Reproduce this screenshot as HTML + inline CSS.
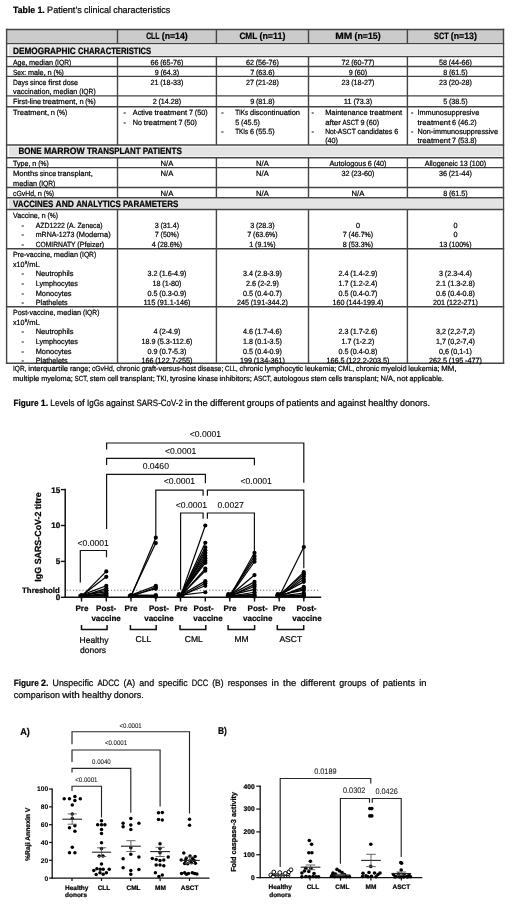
<!DOCTYPE html>
<html><head><meta charset="utf-8"><title>Table 1 and Figures</title>
<style>
html,body{margin:0;padding:0;background:#fff;}
body{width:520px;height:906px;overflow:hidden;position:relative;}
svg{position:absolute;left:0;top:0;will-change:transform;font-family:"Liberation Sans",sans-serif;}
text{stroke:#000;stroke-width:0.22px;text-rendering:geometricPrecision;}
text.lt{stroke-width:0.08px;}
</style></head><body>
<svg width="520" height="906" viewBox="0 0 520 906" fill="#000">
<g id="table1-title">
<text x="13" y="13" font-size="9.26" font-weight="bold" textLength="22.19" lengthAdjust="spacingAndGlyphs">Table</text>
<text x="37.39" y="13" font-size="9.26" font-weight="bold" textLength="7.5" lengthAdjust="spacingAndGlyphs">1.</text>
<text x="47.09" y="13" font-size="9.26" textLength="34.7" lengthAdjust="spacingAndGlyphs">Patient’s</text>
<text x="83.99" y="13" font-size="9.26" textLength="26.99" lengthAdjust="spacingAndGlyphs">clinical</text>
<text x="113.19" y="13" font-size="9.26" textLength="57.11" lengthAdjust="spacingAndGlyphs">characteristics</text>
</g>
<g id="table1">
<rect x="7" y="30" width="496" height="13.5" fill="#cbcbcb"/>
<rect x="9" y="45.2" width="492.8" height="10.6" fill="#e3e3e3"/>
<rect x="9" y="146.6" width="492.8" height="9.8" fill="#e3e3e3"/>
<rect x="9" y="199.1" width="492.8" height="9.8" fill="#e3e3e3"/>
<line x1="5.9" y1="29.5" x2="504.2" y2="29.5" stroke="#444" stroke-width="1.4"/>
<line x1="5.9" y1="43.6" x2="504.2" y2="43.6" stroke="#444" stroke-width="1.4"/>
<line x1="5.9" y1="56.6" x2="504.2" y2="56.6" stroke="#444" stroke-width="1.4"/>
<line x1="5.9" y1="66.5" x2="504.2" y2="66.5" stroke="#444" stroke-width="1.4"/>
<line x1="5.9" y1="76.4" x2="504.2" y2="76.4" stroke="#444" stroke-width="1.4"/>
<line x1="5.9" y1="95.9" x2="504.2" y2="95.9" stroke="#444" stroke-width="1.4"/>
<line x1="5.9" y1="106.7" x2="504.2" y2="106.7" stroke="#444" stroke-width="1.4"/>
<line x1="5.9" y1="145" x2="504.2" y2="145" stroke="#444" stroke-width="1.4"/>
<line x1="5.9" y1="157.7" x2="504.2" y2="157.7" stroke="#444" stroke-width="1.4"/>
<line x1="5.9" y1="167.6" x2="504.2" y2="167.6" stroke="#444" stroke-width="1.4"/>
<line x1="5.9" y1="187.5" x2="504.2" y2="187.5" stroke="#444" stroke-width="1.4"/>
<line x1="5.9" y1="197.7" x2="504.2" y2="197.7" stroke="#444" stroke-width="1.4"/>
<line x1="5.9" y1="209.5" x2="504.2" y2="209.5" stroke="#444" stroke-width="1.4"/>
<line x1="5.9" y1="248.8" x2="504.2" y2="248.8" stroke="#444" stroke-width="1.4"/>
<line x1="5.9" y1="306.7" x2="504.2" y2="306.7" stroke="#444" stroke-width="1.4"/>
<line x1="5.9" y1="363.2" x2="504.2" y2="363.2" stroke="#444" stroke-width="1.4"/>
<line x1="6.6" y1="28.8" x2="6.6" y2="363.9" stroke="#444" stroke-width="1.4"/>
<line x1="503.5" y1="28.8" x2="503.5" y2="363.9" stroke="#444" stroke-width="1.4"/>
<line x1="117.5" y1="29.5" x2="117.5" y2="43.6" stroke="#444" stroke-width="1.4"/>
<line x1="117.5" y1="56.6" x2="117.5" y2="145" stroke="#444" stroke-width="1.4"/>
<line x1="117.5" y1="157.7" x2="117.5" y2="197.7" stroke="#444" stroke-width="1.4"/>
<line x1="117.5" y1="209.5" x2="117.5" y2="363.2" stroke="#444" stroke-width="1.4"/>
<line x1="216.4" y1="29.5" x2="216.4" y2="43.6" stroke="#444" stroke-width="1.4"/>
<line x1="216.4" y1="56.6" x2="216.4" y2="145" stroke="#444" stroke-width="1.4"/>
<line x1="216.4" y1="157.7" x2="216.4" y2="197.7" stroke="#444" stroke-width="1.4"/>
<line x1="216.4" y1="209.5" x2="216.4" y2="363.2" stroke="#444" stroke-width="1.4"/>
<line x1="308.5" y1="29.5" x2="308.5" y2="43.6" stroke="#444" stroke-width="1.4"/>
<line x1="308.5" y1="56.6" x2="308.5" y2="145" stroke="#444" stroke-width="1.4"/>
<line x1="308.5" y1="157.7" x2="308.5" y2="197.7" stroke="#444" stroke-width="1.4"/>
<line x1="308.5" y1="209.5" x2="308.5" y2="363.2" stroke="#444" stroke-width="1.4"/>
<line x1="407.4" y1="29.5" x2="407.4" y2="43.6" stroke="#444" stroke-width="1.4"/>
<line x1="407.4" y1="56.6" x2="407.4" y2="145" stroke="#444" stroke-width="1.4"/>
<line x1="407.4" y1="157.7" x2="407.4" y2="197.7" stroke="#444" stroke-width="1.4"/>
<line x1="407.4" y1="209.5" x2="407.4" y2="363.2" stroke="#444" stroke-width="1.4"/>
<text x="146.13" y="38.6" font-size="9.26" font-weight="bold" textLength="13.41" lengthAdjust="spacingAndGlyphs">CLL</text>
<text x="161.74" y="38.6" font-size="9.26" font-weight="bold" textLength="26.02" lengthAdjust="spacingAndGlyphs">(n=14)</text>
<text x="239.43" y="38.6" font-size="9.26" font-weight="bold" textLength="17.81" lengthAdjust="spacingAndGlyphs">CML</text>
<text x="259.45" y="38.6" font-size="9.26" font-weight="bold" textLength="26.02" lengthAdjust="spacingAndGlyphs">(n=11)</text>
<text x="335.31" y="38.6" font-size="9.26" font-weight="bold" textLength="17.05" lengthAdjust="spacingAndGlyphs">MM</text>
<text x="354.57" y="38.6" font-size="9.26" font-weight="bold" textLength="26.02" lengthAdjust="spacingAndGlyphs">(n=15)</text>
<text x="434.03" y="38.6" font-size="9.26" font-weight="bold" textLength="14.61" lengthAdjust="spacingAndGlyphs">SCT</text>
<text x="450.84" y="38.6" font-size="9.26" font-weight="bold" textLength="26.02" lengthAdjust="spacingAndGlyphs">(n=13)</text>
<text x="13" y="53.5" font-size="9.26" font-weight="bold" textLength="62.74" lengthAdjust="spacingAndGlyphs">DEMOGRAPHIC</text>
<text x="77.95" y="53.5" font-size="9.26" font-weight="bold" textLength="73.29" lengthAdjust="spacingAndGlyphs">CHARACTERISTICS</text>
<text x="18.5" y="153.8" font-size="9.26" font-weight="bold" textLength="23.19" lengthAdjust="spacingAndGlyphs">BONE</text>
<text x="43.9" y="153.8" font-size="9.26" font-weight="bold" textLength="40.83" lengthAdjust="spacingAndGlyphs">MARROW</text>
<text x="86.94" y="153.8" font-size="9.26" font-weight="bold" textLength="53.61" lengthAdjust="spacingAndGlyphs">TRANSPLANT</text>
<text x="142.75" y="153.8" font-size="9.26" font-weight="bold" textLength="39.09" lengthAdjust="spacingAndGlyphs">PATIENTS</text>
<text x="13" y="206.7" font-size="9.26" font-weight="bold" textLength="40.34" lengthAdjust="spacingAndGlyphs">VACCINES</text>
<text x="55.55" y="206.7" font-size="9.26" font-weight="bold" textLength="18.42" lengthAdjust="spacingAndGlyphs">AND</text>
<text x="76.17" y="206.7" font-size="9.26" font-weight="bold" textLength="44.51" lengthAdjust="spacingAndGlyphs">ANALYTICS</text>
<text x="122.89" y="206.7" font-size="9.26" font-weight="bold" textLength="55.47" lengthAdjust="spacingAndGlyphs">PARAMETERS</text>
<text x="13" y="64.8" font-size="7.5" textLength="14.19" lengthAdjust="spacingAndGlyphs">Age,</text>
<text x="28.98" y="64.8" font-size="7.5" textLength="24.14" lengthAdjust="spacingAndGlyphs">median</text>
<text x="54.9" y="64.8" font-size="7.5" textLength="16.39" lengthAdjust="spacingAndGlyphs">(IQR)</text>
<text x="150.44" y="64.8" font-size="7.5" textLength="8.01" lengthAdjust="spacingAndGlyphs">66</text>
<text x="160.23" y="64.8" font-size="7.5" textLength="23.23" lengthAdjust="spacingAndGlyphs">(65-76)</text>
<text x="245.94" y="64.8" font-size="7.5" textLength="8.01" lengthAdjust="spacingAndGlyphs">62</text>
<text x="255.73" y="64.8" font-size="7.5" textLength="23.23" lengthAdjust="spacingAndGlyphs">(56-76)</text>
<text x="341.44" y="64.8" font-size="7.5" textLength="8.01" lengthAdjust="spacingAndGlyphs">72</text>
<text x="351.23" y="64.8" font-size="7.5" textLength="23.23" lengthAdjust="spacingAndGlyphs">(60-77)</text>
<text x="438.94" y="64.8" font-size="7.5" textLength="8.01" lengthAdjust="spacingAndGlyphs">58</text>
<text x="448.73" y="64.8" font-size="7.5" textLength="23.23" lengthAdjust="spacingAndGlyphs">(44-66)</text>
<text x="13" y="74.7" font-size="7.5" textLength="13.1" lengthAdjust="spacingAndGlyphs">Sex:</text>
<text x="27.88" y="74.7" font-size="7.5" textLength="17.81" lengthAdjust="spacingAndGlyphs">male,</text>
<text x="47.48" y="74.7" font-size="7.5" textLength="4.15" lengthAdjust="spacingAndGlyphs">n</text>
<text x="53.41" y="74.7" font-size="7.5" textLength="10.44" lengthAdjust="spacingAndGlyphs">(%)</text>
<text x="154.66" y="74.7" font-size="7.5" textLength="4" lengthAdjust="spacingAndGlyphs">9</text>
<text x="160.45" y="74.7" font-size="7.5" textLength="18.8" lengthAdjust="spacingAndGlyphs">(64.3)</text>
<text x="250.16" y="74.7" font-size="7.5" textLength="4" lengthAdjust="spacingAndGlyphs">7</text>
<text x="255.95" y="74.7" font-size="7.5" textLength="18.8" lengthAdjust="spacingAndGlyphs">(63.6)</text>
<text x="348.66" y="74.7" font-size="7.5" textLength="4" lengthAdjust="spacingAndGlyphs">9</text>
<text x="354.45" y="74.7" font-size="7.5" textLength="12.8" lengthAdjust="spacingAndGlyphs">(60)</text>
<text x="443.16" y="74.7" font-size="7.5" textLength="4" lengthAdjust="spacingAndGlyphs">8</text>
<text x="448.95" y="74.7" font-size="7.5" textLength="18.8" lengthAdjust="spacingAndGlyphs">(61.5)</text>
<text x="13" y="84.6" font-size="7.5" textLength="15.31" lengthAdjust="spacingAndGlyphs">Days</text>
<text x="30.1" y="84.6" font-size="7.5" textLength="16.32" lengthAdjust="spacingAndGlyphs">since</text>
<text x="48.21" y="84.6" font-size="7.5" textLength="12.71" lengthAdjust="spacingAndGlyphs">first</text>
<text x="62.71" y="84.6" font-size="7.5" textLength="15.34" lengthAdjust="spacingAndGlyphs">dose</text>
<text x="13" y="94.1" font-size="7.5" textLength="38.53" lengthAdjust="spacingAndGlyphs">vaccination,</text>
<text x="53.31" y="94.1" font-size="7.5" textLength="24.14" lengthAdjust="spacingAndGlyphs">median</text>
<text x="79.24" y="94.1" font-size="7.5" textLength="16.39" lengthAdjust="spacingAndGlyphs">(IQR)</text>
<text x="150.44" y="84.6" font-size="7.5" textLength="8.01" lengthAdjust="spacingAndGlyphs">21</text>
<text x="160.23" y="84.6" font-size="7.5" textLength="23.23" lengthAdjust="spacingAndGlyphs">(18-33)</text>
<text x="245.94" y="84.6" font-size="7.5" textLength="8.01" lengthAdjust="spacingAndGlyphs">27</text>
<text x="255.73" y="84.6" font-size="7.5" textLength="23.23" lengthAdjust="spacingAndGlyphs">(21-28)</text>
<text x="341.44" y="84.6" font-size="7.5" textLength="8.01" lengthAdjust="spacingAndGlyphs">23</text>
<text x="351.23" y="84.6" font-size="7.5" textLength="23.23" lengthAdjust="spacingAndGlyphs">(18-27)</text>
<text x="438.94" y="84.6" font-size="7.5" textLength="8.01" lengthAdjust="spacingAndGlyphs">23</text>
<text x="448.73" y="84.6" font-size="7.5" textLength="23.23" lengthAdjust="spacingAndGlyphs">(20-28)</text>
<text x="13" y="104.1" font-size="7.5" textLength="28.06" lengthAdjust="spacingAndGlyphs">First-line</text>
<text x="42.84" y="104.1" font-size="7.5" textLength="34.77" lengthAdjust="spacingAndGlyphs">treatment,</text>
<text x="79.4" y="104.1" font-size="7.5" textLength="4.15" lengthAdjust="spacingAndGlyphs">n</text>
<text x="85.34" y="104.1" font-size="7.5" textLength="10.44" lengthAdjust="spacingAndGlyphs">(%)</text>
<text x="152.65" y="104.1" font-size="7.5" textLength="4" lengthAdjust="spacingAndGlyphs">2</text>
<text x="158.44" y="104.1" font-size="7.5" textLength="22.8" lengthAdjust="spacingAndGlyphs">(14.28)</text>
<text x="250.16" y="104.1" font-size="7.5" textLength="4" lengthAdjust="spacingAndGlyphs">9</text>
<text x="255.95" y="104.1" font-size="7.5" textLength="18.8" lengthAdjust="spacingAndGlyphs">(81.8)</text>
<text x="343.65" y="104.1" font-size="7.5" textLength="8.01" lengthAdjust="spacingAndGlyphs">11</text>
<text x="353.45" y="104.1" font-size="7.5" textLength="18.8" lengthAdjust="spacingAndGlyphs">(73.3)</text>
<text x="443.16" y="104.1" font-size="7.5" textLength="4" lengthAdjust="spacingAndGlyphs">5</text>
<text x="448.95" y="104.1" font-size="7.5" textLength="18.8" lengthAdjust="spacingAndGlyphs">(38.5)</text>
<text x="13" y="114.9" font-size="7.5" textLength="35.97" lengthAdjust="spacingAndGlyphs">Treatment,</text>
<text x="50.76" y="114.9" font-size="7.5" textLength="4.15" lengthAdjust="spacingAndGlyphs">n</text>
<text x="56.7" y="114.9" font-size="7.5" textLength="10.44" lengthAdjust="spacingAndGlyphs">(%)</text>
<text x="123.49" y="114.9" font-size="7.5" textLength="2.42" lengthAdjust="spacingAndGlyphs">-</text>
<text x="132.8" y="114.9" font-size="7.5" textLength="19.87" lengthAdjust="spacingAndGlyphs">Active</text>
<text x="154.46" y="114.9" font-size="7.5" textLength="32.8" lengthAdjust="spacingAndGlyphs">treatment</text>
<text x="189.04" y="114.9" font-size="7.5" textLength="4" lengthAdjust="spacingAndGlyphs">7</text>
<text x="194.83" y="114.9" font-size="7.5" textLength="12.8" lengthAdjust="spacingAndGlyphs">(50)</text>
<text x="123.49" y="124.6" font-size="7.5" textLength="2.42" lengthAdjust="spacingAndGlyphs">-</text>
<text x="132.8" y="124.6" font-size="7.5" textLength="9.27" lengthAdjust="spacingAndGlyphs">No</text>
<text x="143.85" y="124.6" font-size="7.5" textLength="32.8" lengthAdjust="spacingAndGlyphs">treatment</text>
<text x="178.44" y="124.6" font-size="7.5" textLength="4" lengthAdjust="spacingAndGlyphs">7</text>
<text x="184.23" y="124.6" font-size="7.5" textLength="12.8" lengthAdjust="spacingAndGlyphs">(50)</text>
<text x="221.29" y="114.9" font-size="7.5" textLength="2.42" lengthAdjust="spacingAndGlyphs">-</text>
<text x="235.2" y="114.9" font-size="7.5" textLength="13.03" lengthAdjust="spacingAndGlyphs">TIKs</text>
<text x="250.02" y="114.9" font-size="7.5" textLength="50.03" lengthAdjust="spacingAndGlyphs">discontinuation</text>
<text x="235.2" y="124.6" font-size="7.5" textLength="4" lengthAdjust="spacingAndGlyphs">5</text>
<text x="240.99" y="124.6" font-size="7.5" textLength="18.8" lengthAdjust="spacingAndGlyphs">(45.5)</text>
<text x="221.29" y="134" font-size="7.5" textLength="2.42" lengthAdjust="spacingAndGlyphs">-</text>
<text x="235.2" y="134" font-size="7.5" textLength="13.03" lengthAdjust="spacingAndGlyphs">TKIs</text>
<text x="250.02" y="134" font-size="7.5" textLength="4" lengthAdjust="spacingAndGlyphs">6</text>
<text x="255.81" y="134" font-size="7.5" textLength="18.8" lengthAdjust="spacingAndGlyphs">(55.5)</text>
<text x="311.49" y="114.9" font-size="7.5" textLength="2.42" lengthAdjust="spacingAndGlyphs">-</text>
<text x="325.2" y="114.9" font-size="7.5" textLength="42.44" lengthAdjust="spacingAndGlyphs">Maintenance</text>
<text x="369.42" y="114.9" font-size="7.5" textLength="32.8" lengthAdjust="spacingAndGlyphs">treatment</text>
<text x="325.2" y="124.6" font-size="7.5" textLength="15.53" lengthAdjust="spacingAndGlyphs">after</text>
<text x="342.51" y="124.6" font-size="7.5" textLength="16.26" lengthAdjust="spacingAndGlyphs">ASCT</text>
<text x="360.56" y="124.6" font-size="7.5" textLength="4" lengthAdjust="spacingAndGlyphs">9</text>
<text x="366.35" y="124.6" font-size="7.5" textLength="12.8" lengthAdjust="spacingAndGlyphs">(60)</text>
<text x="311.49" y="134.3" font-size="7.5" textLength="2.42" lengthAdjust="spacingAndGlyphs">-</text>
<text x="325.2" y="134.3" font-size="7.5" textLength="30.59" lengthAdjust="spacingAndGlyphs">Not-ASCT</text>
<text x="357.58" y="134.3" font-size="7.5" textLength="34.84" lengthAdjust="spacingAndGlyphs">candidates</text>
<text x="394.21" y="134.3" font-size="7.5" textLength="4" lengthAdjust="spacingAndGlyphs">6</text>
<text x="325.2" y="143.4" font-size="7.5" textLength="12.8" lengthAdjust="spacingAndGlyphs">(40)</text>
<text x="410.89" y="114.9" font-size="7.5" textLength="2.42" lengthAdjust="spacingAndGlyphs">-</text>
<text x="417.5" y="114.9" font-size="7.5" textLength="61.71" lengthAdjust="spacingAndGlyphs">Immunosuppresive</text>
<text x="417.5" y="124.6" font-size="7.5" textLength="32.8" lengthAdjust="spacingAndGlyphs">treatment</text>
<text x="452.09" y="124.6" font-size="7.5" textLength="4" lengthAdjust="spacingAndGlyphs">6</text>
<text x="457.88" y="124.6" font-size="7.5" textLength="18.8" lengthAdjust="spacingAndGlyphs">(46.2)</text>
<text x="410.89" y="134.3" font-size="7.5" textLength="2.42" lengthAdjust="spacingAndGlyphs">-</text>
<text x="417.5" y="134.3" font-size="7.5" textLength="80.45" lengthAdjust="spacingAndGlyphs">Non-immunosuppressive</text>
<text x="417.5" y="143.4" font-size="7.5" textLength="32.8" lengthAdjust="spacingAndGlyphs">treatment</text>
<text x="452.09" y="143.4" font-size="7.5" textLength="4" lengthAdjust="spacingAndGlyphs">7</text>
<text x="457.88" y="143.4" font-size="7.5" textLength="18.8" lengthAdjust="spacingAndGlyphs">(53.8)</text>
<text x="13" y="165.9" font-size="7.5" textLength="17.48" lengthAdjust="spacingAndGlyphs">Type,</text>
<text x="32.26" y="165.9" font-size="7.5" textLength="4.15" lengthAdjust="spacingAndGlyphs">n</text>
<text x="38.2" y="165.9" font-size="7.5" textLength="10.44" lengthAdjust="spacingAndGlyphs">(%)</text>
<text x="160.59" y="165.9" font-size="7.5" textLength="12.72" lengthAdjust="spacingAndGlyphs">N/A</text>
<text x="256.09" y="165.9" font-size="7.5" textLength="12.72" lengthAdjust="spacingAndGlyphs">N/A</text>
<text x="329.44" y="165.9" font-size="7.5" textLength="36.64" lengthAdjust="spacingAndGlyphs">Autologous</text>
<text x="367.87" y="165.9" font-size="7.5" textLength="4" lengthAdjust="spacingAndGlyphs">6</text>
<text x="373.66" y="165.9" font-size="7.5" textLength="12.8" lengthAdjust="spacingAndGlyphs">(40)</text>
<text x="424.63" y="165.9" font-size="7.5" textLength="33.25" lengthAdjust="spacingAndGlyphs">Allogeneic</text>
<text x="459.67" y="165.9" font-size="7.5" textLength="8.01" lengthAdjust="spacingAndGlyphs">13</text>
<text x="469.46" y="165.9" font-size="7.5" textLength="16.8" lengthAdjust="spacingAndGlyphs">(100)</text>
<text x="13" y="176.1" font-size="7.5" textLength="24.96" lengthAdjust="spacingAndGlyphs">Months</text>
<text x="39.74" y="176.1" font-size="7.5" textLength="16.32" lengthAdjust="spacingAndGlyphs">since</text>
<text x="57.85" y="176.1" font-size="7.5" textLength="34.94" lengthAdjust="spacingAndGlyphs">transplant,</text>
<text x="13" y="185.6" font-size="7.5" textLength="24.14" lengthAdjust="spacingAndGlyphs">median</text>
<text x="38.93" y="185.6" font-size="7.5" textLength="16.39" lengthAdjust="spacingAndGlyphs">(IQR)</text>
<text x="160.59" y="176.1" font-size="7.5" textLength="12.72" lengthAdjust="spacingAndGlyphs">N/A</text>
<text x="256.09" y="176.1" font-size="7.5" textLength="12.72" lengthAdjust="spacingAndGlyphs">N/A</text>
<text x="341.44" y="176.1" font-size="7.5" textLength="8.01" lengthAdjust="spacingAndGlyphs">32</text>
<text x="351.23" y="176.1" font-size="7.5" textLength="23.23" lengthAdjust="spacingAndGlyphs">(23-60)</text>
<text x="438.94" y="176.1" font-size="7.5" textLength="8.01" lengthAdjust="spacingAndGlyphs">36</text>
<text x="448.73" y="176.1" font-size="7.5" textLength="23.23" lengthAdjust="spacingAndGlyphs">(21-44)</text>
<text x="13" y="195.8" font-size="7.5" textLength="22.94" lengthAdjust="spacingAndGlyphs">cGvHd,</text>
<text x="37.72" y="195.8" font-size="7.5" textLength="4.15" lengthAdjust="spacingAndGlyphs">n</text>
<text x="43.66" y="195.8" font-size="7.5" textLength="10.44" lengthAdjust="spacingAndGlyphs">(%)</text>
<text x="160.59" y="195.8" font-size="7.5" textLength="12.72" lengthAdjust="spacingAndGlyphs">N/A</text>
<text x="256.09" y="195.8" font-size="7.5" textLength="12.72" lengthAdjust="spacingAndGlyphs">N/A</text>
<text x="351.59" y="195.8" font-size="7.5" textLength="12.72" lengthAdjust="spacingAndGlyphs">N/A</text>
<text x="443.16" y="195.8" font-size="7.5" textLength="4" lengthAdjust="spacingAndGlyphs">8</text>
<text x="448.95" y="195.8" font-size="7.5" textLength="18.8" lengthAdjust="spacingAndGlyphs">(61.5)</text>
<text x="13" y="217.9" font-size="7.5" textLength="26.81" lengthAdjust="spacingAndGlyphs">Vaccine,</text>
<text x="41.6" y="217.9" font-size="7.5" textLength="4.15" lengthAdjust="spacingAndGlyphs">n</text>
<text x="47.54" y="217.9" font-size="7.5" textLength="10.44" lengthAdjust="spacingAndGlyphs">(%)</text>
<text x="21.59" y="227.5" font-size="7.5" textLength="2.42" lengthAdjust="spacingAndGlyphs">-</text>
<text x="35.7" y="227.5" font-size="7.5" textLength="29.15" lengthAdjust="spacingAndGlyphs">AZD1222</text>
<text x="66.63" y="227.5" font-size="7.5" textLength="8.96" lengthAdjust="spacingAndGlyphs">(A.</text>
<text x="77.38" y="227.5" font-size="7.5" textLength="25.23" lengthAdjust="spacingAndGlyphs">Zeneca)</text>
<text x="21.59" y="237.1" font-size="7.5" textLength="2.42" lengthAdjust="spacingAndGlyphs">-</text>
<text x="35.7" y="237.1" font-size="7.5" textLength="38.71" lengthAdjust="spacingAndGlyphs">mRNA-1273</text>
<text x="76.19" y="237.1" font-size="7.5" textLength="34.48" lengthAdjust="spacingAndGlyphs">(Moderna)</text>
<text x="21.59" y="246.7" font-size="7.5" textLength="2.42" lengthAdjust="spacingAndGlyphs">-</text>
<text x="35.7" y="246.7" font-size="7.5" textLength="39.85" lengthAdjust="spacingAndGlyphs">COMIRNATY</text>
<text x="77.33" y="246.7" font-size="7.5" textLength="26.83" lengthAdjust="spacingAndGlyphs">(Pfeizer)</text>
<text x="154.66" y="227.5" font-size="7.5" textLength="4" lengthAdjust="spacingAndGlyphs">3</text>
<text x="160.45" y="227.5" font-size="7.5" textLength="18.8" lengthAdjust="spacingAndGlyphs">(31.4)</text>
<text x="154.83" y="237.1" font-size="7.5" textLength="4" lengthAdjust="spacingAndGlyphs">7</text>
<text x="160.62" y="237.1" font-size="7.5" textLength="18.45" lengthAdjust="spacingAndGlyphs">(50%)</text>
<text x="151.83" y="246.7" font-size="7.5" textLength="4" lengthAdjust="spacingAndGlyphs">4</text>
<text x="157.62" y="246.7" font-size="7.5" textLength="24.44" lengthAdjust="spacingAndGlyphs">(28.6%)</text>
<text x="250.16" y="227.5" font-size="7.5" textLength="4" lengthAdjust="spacingAndGlyphs">3</text>
<text x="255.95" y="227.5" font-size="7.5" textLength="18.8" lengthAdjust="spacingAndGlyphs">(28.3)</text>
<text x="247.33" y="237.1" font-size="7.5" textLength="4" lengthAdjust="spacingAndGlyphs">7</text>
<text x="253.12" y="237.1" font-size="7.5" textLength="24.44" lengthAdjust="spacingAndGlyphs">(63.6%)</text>
<text x="249.33" y="246.7" font-size="7.5" textLength="4" lengthAdjust="spacingAndGlyphs">1</text>
<text x="255.12" y="246.7" font-size="7.5" textLength="20.44" lengthAdjust="spacingAndGlyphs">(9.1%)</text>
<text x="355.95" y="227.5" font-size="7.5" textLength="4" lengthAdjust="spacingAndGlyphs">0</text>
<text x="342.83" y="237.1" font-size="7.5" textLength="4" lengthAdjust="spacingAndGlyphs">7</text>
<text x="348.62" y="237.1" font-size="7.5" textLength="24.44" lengthAdjust="spacingAndGlyphs">(46.7%)</text>
<text x="342.83" y="246.7" font-size="7.5" textLength="4" lengthAdjust="spacingAndGlyphs">8</text>
<text x="348.62" y="246.7" font-size="7.5" textLength="24.44" lengthAdjust="spacingAndGlyphs">(53.3%)</text>
<text x="453.45" y="227.5" font-size="7.5" textLength="4" lengthAdjust="spacingAndGlyphs">0</text>
<text x="453.45" y="237.1" font-size="7.5" textLength="4" lengthAdjust="spacingAndGlyphs">0</text>
<text x="439.33" y="246.7" font-size="7.5" textLength="8.01" lengthAdjust="spacingAndGlyphs">13</text>
<text x="449.12" y="246.7" font-size="7.5" textLength="22.45" lengthAdjust="spacingAndGlyphs">(100%)</text>
<text x="13" y="257.1" font-size="7.5" textLength="39.08" lengthAdjust="spacingAndGlyphs">Pre-vaccine,</text>
<text x="53.87" y="257.1" font-size="7.5" textLength="24.14" lengthAdjust="spacingAndGlyphs">median</text>
<text x="79.8" y="257.1" font-size="7.5" textLength="16.39" lengthAdjust="spacingAndGlyphs">(IQR)</text>
<text x="21.59" y="276.3" font-size="7.5" textLength="2.42" lengthAdjust="spacingAndGlyphs">-</text>
<text x="35.7" y="276.3" font-size="7.5" textLength="37.76" lengthAdjust="spacingAndGlyphs">Neutrophils</text>
<text x="21.59" y="285.9" font-size="7.5" textLength="2.42" lengthAdjust="spacingAndGlyphs">-</text>
<text x="35.7" y="285.9" font-size="7.5" textLength="42.26" lengthAdjust="spacingAndGlyphs">Lymphocytes</text>
<text x="21.59" y="295.5" font-size="7.5" textLength="2.42" lengthAdjust="spacingAndGlyphs">-</text>
<text x="35.7" y="295.5" font-size="7.5" textLength="35.82" lengthAdjust="spacingAndGlyphs">Monocytes</text>
<text x="21.59" y="305.1" font-size="7.5" textLength="2.42" lengthAdjust="spacingAndGlyphs">-</text>
<text x="35.7" y="305.1" font-size="7.5" textLength="31.89" lengthAdjust="spacingAndGlyphs">Plathelets</text>
<text x="147.45" y="276.3" font-size="7.5" textLength="10" lengthAdjust="spacingAndGlyphs">3.2</text>
<text x="159.24" y="276.3" font-size="7.5" textLength="27.21" lengthAdjust="spacingAndGlyphs">(1.6-4.9)</text>
<text x="152.44" y="285.9" font-size="7.5" textLength="8.01" lengthAdjust="spacingAndGlyphs">18</text>
<text x="162.24" y="285.9" font-size="7.5" textLength="19.22" lengthAdjust="spacingAndGlyphs">(1-80)</text>
<text x="147.45" y="295.5" font-size="7.5" textLength="10" lengthAdjust="spacingAndGlyphs">0.5</text>
<text x="159.24" y="295.5" font-size="7.5" textLength="27.21" lengthAdjust="spacingAndGlyphs">(0.3-0.9)</text>
<text x="143.44" y="305.1" font-size="7.5" textLength="12.01" lengthAdjust="spacingAndGlyphs">115</text>
<text x="157.24" y="305.1" font-size="7.5" textLength="33.23" lengthAdjust="spacingAndGlyphs">(91.1-146)</text>
<text x="242.95" y="276.3" font-size="7.5" textLength="10" lengthAdjust="spacingAndGlyphs">3.4</text>
<text x="254.74" y="276.3" font-size="7.5" textLength="27.21" lengthAdjust="spacingAndGlyphs">(2.8-3.9)</text>
<text x="245.95" y="285.9" font-size="7.5" textLength="10" lengthAdjust="spacingAndGlyphs">2.6</text>
<text x="257.74" y="285.9" font-size="7.5" textLength="21.22" lengthAdjust="spacingAndGlyphs">(2-2.9)</text>
<text x="242.95" y="295.5" font-size="7.5" textLength="10" lengthAdjust="spacingAndGlyphs">0.5</text>
<text x="254.74" y="295.5" font-size="7.5" textLength="27.21" lengthAdjust="spacingAndGlyphs">(0.4-0.7)</text>
<text x="236.94" y="305.1" font-size="7.5" textLength="12.01" lengthAdjust="spacingAndGlyphs">245</text>
<text x="250.73" y="305.1" font-size="7.5" textLength="37.23" lengthAdjust="spacingAndGlyphs">(191-344.2)</text>
<text x="338.45" y="276.3" font-size="7.5" textLength="10" lengthAdjust="spacingAndGlyphs">2.4</text>
<text x="350.24" y="276.3" font-size="7.5" textLength="27.21" lengthAdjust="spacingAndGlyphs">(1.4-2.9)</text>
<text x="338.45" y="285.9" font-size="7.5" textLength="10" lengthAdjust="spacingAndGlyphs">1.7</text>
<text x="350.24" y="285.9" font-size="7.5" textLength="27.21" lengthAdjust="spacingAndGlyphs">(1.2-2.4)</text>
<text x="338.45" y="295.5" font-size="7.5" textLength="10" lengthAdjust="spacingAndGlyphs">0.5</text>
<text x="350.24" y="295.5" font-size="7.5" textLength="27.21" lengthAdjust="spacingAndGlyphs">(0.4-0.7)</text>
<text x="332.44" y="305.1" font-size="7.5" textLength="12.01" lengthAdjust="spacingAndGlyphs">160</text>
<text x="346.23" y="305.1" font-size="7.5" textLength="37.23" lengthAdjust="spacingAndGlyphs">(144-199.4)</text>
<text x="438.95" y="276.3" font-size="7.5" textLength="4" lengthAdjust="spacingAndGlyphs">3</text>
<text x="444.74" y="276.3" font-size="7.5" textLength="27.21" lengthAdjust="spacingAndGlyphs">(2.3-4.4)</text>
<text x="435.95" y="285.9" font-size="7.5" textLength="10" lengthAdjust="spacingAndGlyphs">2.1</text>
<text x="447.74" y="285.9" font-size="7.5" textLength="27.21" lengthAdjust="spacingAndGlyphs">(1.3-2.8)</text>
<text x="435.95" y="295.5" font-size="7.5" textLength="10" lengthAdjust="spacingAndGlyphs">0.6</text>
<text x="447.74" y="295.5" font-size="7.5" textLength="27.21" lengthAdjust="spacingAndGlyphs">(0.4-0.8)</text>
<text x="432.93" y="305.1" font-size="7.5" textLength="12.01" lengthAdjust="spacingAndGlyphs">201</text>
<text x="446.73" y="305.1" font-size="7.5" textLength="31.23" lengthAdjust="spacingAndGlyphs">(122-271)</text>
<text x="13" y="314.9" font-size="7.5" textLength="42.3" lengthAdjust="spacingAndGlyphs">Post-vaccine,</text>
<text x="57.09" y="314.9" font-size="7.5" textLength="24.14" lengthAdjust="spacingAndGlyphs">median</text>
<text x="83.01" y="314.9" font-size="7.5" textLength="16.39" lengthAdjust="spacingAndGlyphs">(IQR)</text>
<text x="21.59" y="334.26" font-size="7.5" textLength="2.42" lengthAdjust="spacingAndGlyphs">-</text>
<text x="35.7" y="334.26" font-size="7.5" textLength="37.76" lengthAdjust="spacingAndGlyphs">Neutrophils</text>
<text x="21.59" y="343.94" font-size="7.5" textLength="2.42" lengthAdjust="spacingAndGlyphs">-</text>
<text x="35.7" y="343.94" font-size="7.5" textLength="42.26" lengthAdjust="spacingAndGlyphs">Lymphocytes</text>
<text x="21.59" y="353.62" font-size="7.5" textLength="2.42" lengthAdjust="spacingAndGlyphs">-</text>
<text x="35.7" y="353.62" font-size="7.5" textLength="35.82" lengthAdjust="spacingAndGlyphs">Monocytes</text>
<text x="21.59" y="363.3" font-size="7.5" textLength="2.42" lengthAdjust="spacingAndGlyphs">-</text>
<text x="35.7" y="363.3" font-size="7.5" textLength="31.89" lengthAdjust="spacingAndGlyphs">Plathelets</text>
<text x="153.45" y="334.26" font-size="7.5" textLength="4" lengthAdjust="spacingAndGlyphs">4</text>
<text x="159.24" y="334.26" font-size="7.5" textLength="21.22" lengthAdjust="spacingAndGlyphs">(2-4.9)</text>
<text x="141.44" y="343.94" font-size="7.5" textLength="14.01" lengthAdjust="spacingAndGlyphs">18.9</text>
<text x="157.24" y="343.94" font-size="7.5" textLength="35.22" lengthAdjust="spacingAndGlyphs">(5.3-112.6)</text>
<text x="147.45" y="353.62" font-size="7.5" textLength="10" lengthAdjust="spacingAndGlyphs">0.9</text>
<text x="159.24" y="353.62" font-size="7.5" textLength="27.21" lengthAdjust="spacingAndGlyphs">(0.7-5.3)</text>
<text x="141.44" y="363.3" font-size="7.5" textLength="12.01" lengthAdjust="spacingAndGlyphs">166</text>
<text x="155.23" y="363.3" font-size="7.5" textLength="37.23" lengthAdjust="spacingAndGlyphs">(122.7-255)</text>
<text x="242.95" y="334.26" font-size="7.5" textLength="10" lengthAdjust="spacingAndGlyphs">4.6</text>
<text x="254.74" y="334.26" font-size="7.5" textLength="27.21" lengthAdjust="spacingAndGlyphs">(1.7-4.6)</text>
<text x="242.95" y="343.94" font-size="7.5" textLength="10" lengthAdjust="spacingAndGlyphs">1.8</text>
<text x="254.74" y="343.94" font-size="7.5" textLength="27.21" lengthAdjust="spacingAndGlyphs">(0.1-3.5)</text>
<text x="242.95" y="353.62" font-size="7.5" textLength="10" lengthAdjust="spacingAndGlyphs">0.5</text>
<text x="254.74" y="353.62" font-size="7.5" textLength="27.21" lengthAdjust="spacingAndGlyphs">(0.4-0.9)</text>
<text x="239.93" y="363.3" font-size="7.5" textLength="12.01" lengthAdjust="spacingAndGlyphs">199</text>
<text x="253.73" y="363.3" font-size="7.5" textLength="31.23" lengthAdjust="spacingAndGlyphs">(134-361)</text>
<text x="338.45" y="334.26" font-size="7.5" textLength="10" lengthAdjust="spacingAndGlyphs">2.3</text>
<text x="350.24" y="334.26" font-size="7.5" textLength="27.21" lengthAdjust="spacingAndGlyphs">(1.7-2.6)</text>
<text x="341.45" y="343.94" font-size="7.5" textLength="10" lengthAdjust="spacingAndGlyphs">1.7</text>
<text x="353.24" y="343.94" font-size="7.5" textLength="21.22" lengthAdjust="spacingAndGlyphs">(1-2.2)</text>
<text x="338.45" y="353.62" font-size="7.5" textLength="10" lengthAdjust="spacingAndGlyphs">0.5</text>
<text x="350.24" y="353.62" font-size="7.5" textLength="27.21" lengthAdjust="spacingAndGlyphs">(0.4-0.8)</text>
<text x="326.44" y="363.3" font-size="7.5" textLength="18.01" lengthAdjust="spacingAndGlyphs">166.5</text>
<text x="346.23" y="363.3" font-size="7.5" textLength="43.23" lengthAdjust="spacingAndGlyphs">(122.2-203.5)</text>
<text x="435.98" y="334.26" font-size="7.5" textLength="9.98" lengthAdjust="spacingAndGlyphs">3,2</text>
<text x="447.75" y="334.26" font-size="7.5" textLength="27.17" lengthAdjust="spacingAndGlyphs">(2,2-7,2)</text>
<text x="435.98" y="343.94" font-size="7.5" textLength="9.98" lengthAdjust="spacingAndGlyphs">1,7</text>
<text x="447.75" y="343.94" font-size="7.5" textLength="27.17" lengthAdjust="spacingAndGlyphs">(0,2-7,4)</text>
<text x="438.97" y="353.62" font-size="7.5" textLength="9.98" lengthAdjust="spacingAndGlyphs">0,6</text>
<text x="450.74" y="353.62" font-size="7.5" textLength="21.19" lengthAdjust="spacingAndGlyphs">(0,1-1)</text>
<text x="429.04" y="363.3" font-size="7.5" textLength="18.01" lengthAdjust="spacingAndGlyphs">262.5</text>
<text x="448.84" y="363.3" font-size="7.5" textLength="14.41" lengthAdjust="spacingAndGlyphs">(195</text>
<text x="465.03" y="363.3" font-size="7.5" textLength="16.83" lengthAdjust="spacingAndGlyphs">-477)</text>
<text x="13" y="266.7" font-size="7.5" textLength="11.43" lengthAdjust="spacingAndGlyphs">x10</text>
<text x="24.63" y="263.7" font-size="4.65" textLength="2.48" lengthAdjust="spacingAndGlyphs">9</text>
<text x="27.11" y="266.7" font-size="7.5" textLength="12.68" lengthAdjust="spacingAndGlyphs">/mL</text>
<text x="13" y="324.58" font-size="7.5" textLength="11.43" lengthAdjust="spacingAndGlyphs">x10</text>
<text x="24.63" y="321.58" font-size="4.65" textLength="2.48" lengthAdjust="spacingAndGlyphs">9</text>
<text x="27.11" y="324.58" font-size="7.5" textLength="12.68" lengthAdjust="spacingAndGlyphs">/mL</text>
</g>
<g id="table1-footnote">
<text x="13" y="371.3" font-size="7.5" textLength="13.43" lengthAdjust="spacingAndGlyphs">IQR,</text>
<text x="28.2" y="371.3" font-size="7.5" textLength="39.94" lengthAdjust="spacingAndGlyphs">interquartile</text>
<text x="69.91" y="371.3" font-size="7.5" textLength="20.25" lengthAdjust="spacingAndGlyphs">range;</text>
<text x="91.93" y="371.3" font-size="7.5" textLength="22.71" lengthAdjust="spacingAndGlyphs">cGvHd,</text>
<text x="116.41" y="371.3" font-size="7.5" textLength="23.48" lengthAdjust="spacingAndGlyphs">chronic</text>
<text x="141.66" y="371.3" font-size="7.5" textLength="54.25" lengthAdjust="spacingAndGlyphs">graft-versus-host</text>
<text x="197.68" y="371.3" font-size="7.5" textLength="25.65" lengthAdjust="spacingAndGlyphs">disease;</text>
<text x="225.09" y="371.3" font-size="7.5" textLength="12.7" lengthAdjust="spacingAndGlyphs">CLL,</text>
<text x="239.56" y="371.3" font-size="7.5" textLength="23.48" lengthAdjust="spacingAndGlyphs">chronic</text>
<text x="264.81" y="371.3" font-size="7.5" textLength="38.5" lengthAdjust="spacingAndGlyphs">lymphocytic</text>
<text x="305.08" y="371.3" font-size="7.5" textLength="31.13" lengthAdjust="spacingAndGlyphs">leukemia;</text>
<text x="337.98" y="371.3" font-size="7.5" textLength="16.1" lengthAdjust="spacingAndGlyphs">CML,</text>
<text x="355.85" y="371.3" font-size="7.5" textLength="23.48" lengthAdjust="spacingAndGlyphs">chronic</text>
<text x="381.1" y="371.3" font-size="7.5" textLength="25.51" lengthAdjust="spacingAndGlyphs">myeloid</text>
<text x="408.37" y="371.3" font-size="7.5" textLength="31.13" lengthAdjust="spacingAndGlyphs">leukemia;</text>
<text x="441.27" y="371.3" font-size="7.5" textLength="15.33" lengthAdjust="spacingAndGlyphs">MM,</text>
<text x="13" y="381.3" font-size="7.5" textLength="26.36" lengthAdjust="spacingAndGlyphs">multiple</text>
<text x="41.13" y="381.3" font-size="7.5" textLength="31.68" lengthAdjust="spacingAndGlyphs">myeloma;</text>
<text x="74.58" y="381.3" font-size="7.5" textLength="13.53" lengthAdjust="spacingAndGlyphs">SCT,</text>
<text x="89.87" y="381.3" font-size="7.5" textLength="15.82" lengthAdjust="spacingAndGlyphs">stem</text>
<text x="107.45" y="381.3" font-size="7.5" textLength="10.79" lengthAdjust="spacingAndGlyphs">cell</text>
<text x="120.01" y="381.3" font-size="7.5" textLength="34.73" lengthAdjust="spacingAndGlyphs">transplant;</text>
<text x="156.51" y="381.3" font-size="7.5" textLength="11.8" lengthAdjust="spacingAndGlyphs">TKI,</text>
<text x="170.07" y="381.3" font-size="7.5" textLength="25.86" lengthAdjust="spacingAndGlyphs">tyrosine</text>
<text x="197.7" y="381.3" font-size="7.5" textLength="20.15" lengthAdjust="spacingAndGlyphs">kinase</text>
<text x="219.62" y="381.3" font-size="7.5" textLength="32.33" lengthAdjust="spacingAndGlyphs">inhibitors;</text>
<text x="253.72" y="381.3" font-size="7.5" textLength="18.05" lengthAdjust="spacingAndGlyphs">ASCT,</text>
<text x="273.54" y="381.3" font-size="7.5" textLength="35.49" lengthAdjust="spacingAndGlyphs">autologous</text>
<text x="310.8" y="381.3" font-size="7.5" textLength="15.82" lengthAdjust="spacingAndGlyphs">stem</text>
<text x="328.38" y="381.3" font-size="7.5" textLength="13.85" lengthAdjust="spacingAndGlyphs">cells</text>
<text x="344" y="381.3" font-size="7.5" textLength="34.73" lengthAdjust="spacingAndGlyphs">transplant;</text>
<text x="380.49" y="381.3" font-size="7.5" textLength="14.54" lengthAdjust="spacingAndGlyphs">N/A,</text>
<text x="396.81" y="381.3" font-size="7.5" textLength="10.85" lengthAdjust="spacingAndGlyphs">not</text>
<text x="409.43" y="381.3" font-size="7.5" textLength="34.37" lengthAdjust="spacingAndGlyphs">applicable.</text>
</g>
<g id="figure1-caption">
<text x="13.5" y="405.6" font-size="9.21" font-weight="bold" textLength="25.02" lengthAdjust="spacingAndGlyphs">Figure</text>
<text x="40.71" y="405.6" font-size="9.21" font-weight="bold" textLength="7.46" lengthAdjust="spacingAndGlyphs">1.</text>
<text x="50.37" y="405.6" font-size="9.21" textLength="24.13" lengthAdjust="spacingAndGlyphs">Levels</text>
<text x="76.69" y="405.6" font-size="9.21" textLength="8.08" lengthAdjust="spacingAndGlyphs">of</text>
<text x="86.96" y="405.6" font-size="9.21" textLength="16.92" lengthAdjust="spacingAndGlyphs">IgGs</text>
<text x="106.08" y="405.6" font-size="9.21" textLength="28.22" lengthAdjust="spacingAndGlyphs">against</text>
<text x="136.49" y="405.6" font-size="9.21" textLength="46.44" lengthAdjust="spacingAndGlyphs">SARS-CoV-2</text>
<text x="185.13" y="405.6" font-size="9.21" textLength="7.32" lengthAdjust="spacingAndGlyphs">in</text>
<text x="194.64" y="405.6" font-size="9.21" textLength="13.17" lengthAdjust="spacingAndGlyphs">the</text>
<text x="210.01" y="405.6" font-size="9.21" textLength="34.62" lengthAdjust="spacingAndGlyphs">different</text>
<text x="246.82" y="405.6" font-size="9.21" textLength="27.05" lengthAdjust="spacingAndGlyphs">groups</text>
<text x="276.06" y="405.6" font-size="9.21" textLength="8.08" lengthAdjust="spacingAndGlyphs">of</text>
<text x="286.33" y="405.6" font-size="9.21" textLength="32.18" lengthAdjust="spacingAndGlyphs">patients</text>
<text x="320.71" y="405.6" font-size="9.21" textLength="14.84" lengthAdjust="spacingAndGlyphs">and</text>
<text x="337.74" y="405.6" font-size="9.21" textLength="28.22" lengthAdjust="spacingAndGlyphs">against</text>
<text x="368.16" y="405.6" font-size="9.21" textLength="29.53" lengthAdjust="spacingAndGlyphs">healthy</text>
<text x="399.88" y="405.6" font-size="9.21" textLength="30.05" lengthAdjust="spacingAndGlyphs">donors.</text>
</g>
<g class="fig1">
<line x1="66.6" y1="590.3" x2="320" y2="590.3" stroke="#666" stroke-width="1.1" stroke-dasharray="1.1 2.07"/>
<line x1="81.50" y1="596.44" x2="106.30" y2="571.45" stroke="#000" stroke-width="1.2"/>
<line x1="81.50" y1="595.79" x2="106.30" y2="576.84" stroke="#000" stroke-width="1.2"/>
<line x1="81.50" y1="595.15" x2="106.30" y2="585.81" stroke="#000" stroke-width="1.2"/>
<line x1="81.50" y1="596.44" x2="106.30" y2="588.32" stroke="#000" stroke-width="1.2"/>
<line x1="81.50" y1="595.79" x2="106.30" y2="590.26" stroke="#000" stroke-width="1.2"/>
<line x1="81.50" y1="595.15" x2="106.30" y2="591.91" stroke="#000" stroke-width="1.2"/>
<line x1="81.50" y1="596.44" x2="106.30" y2="593.35" stroke="#000" stroke-width="1.2"/>
<line x1="81.50" y1="595.79" x2="106.30" y2="594.57" stroke="#000" stroke-width="1.2"/>
<line x1="81.50" y1="595.15" x2="106.30" y2="595.50" stroke="#000" stroke-width="1.2"/>
<line x1="81.50" y1="596.44" x2="106.30" y2="596.22" stroke="#000" stroke-width="1.2"/>
<circle cx="106.30" cy="571.45" r="2.1"/>
<circle cx="106.30" cy="576.84" r="2.1"/>
<circle cx="106.30" cy="585.81" r="2.1"/>
<circle cx="106.30" cy="588.32" r="2.1"/>
<circle cx="106.30" cy="590.26" r="2.1"/>
<circle cx="106.30" cy="591.91" r="2.1"/>
<circle cx="106.30" cy="593.35" r="2.1"/>
<circle cx="106.30" cy="594.57" r="2.1"/>
<circle cx="106.30" cy="595.50" r="2.1"/>
<circle cx="106.30" cy="596.22" r="2.1"/>
<circle cx="81.50" cy="596.44" r="2.1"/>
<circle cx="81.50" cy="595.79" r="2.1"/>
<circle cx="81.50" cy="595.15" r="2.1"/>
<circle cx="80.30" cy="595.86" r="2.1"/>
<circle cx="82.70" cy="595.86" r="2.1"/>
<line x1="131.00" y1="596.44" x2="155.80" y2="537.71" stroke="#000" stroke-width="1.2"/>
<line x1="131.00" y1="595.79" x2="155.80" y2="543.09" stroke="#000" stroke-width="1.2"/>
<line x1="131.00" y1="595.15" x2="155.80" y2="585.81" stroke="#000" stroke-width="1.2"/>
<line x1="131.00" y1="596.44" x2="155.80" y2="587.25" stroke="#000" stroke-width="1.2"/>
<line x1="131.00" y1="595.79" x2="155.80" y2="588.68" stroke="#000" stroke-width="1.2"/>
<line x1="131.00" y1="595.15" x2="155.80" y2="595.15" stroke="#000" stroke-width="1.2"/>
<line x1="131.00" y1="596.44" x2="155.80" y2="595.86" stroke="#000" stroke-width="1.2"/>
<line x1="131.00" y1="595.79" x2="155.80" y2="596.44" stroke="#000" stroke-width="1.2"/>
<line x1="131.00" y1="595.15" x2="155.80" y2="596.73" stroke="#000" stroke-width="1.2"/>
<circle cx="155.80" cy="537.71" r="2.1"/>
<circle cx="155.80" cy="543.09" r="2.1"/>
<circle cx="155.80" cy="585.81" r="2.1"/>
<circle cx="155.80" cy="587.25" r="2.1"/>
<circle cx="155.80" cy="588.68" r="2.1"/>
<circle cx="155.80" cy="595.15" r="2.1"/>
<circle cx="155.80" cy="595.86" r="2.1"/>
<circle cx="155.80" cy="596.44" r="2.1"/>
<circle cx="155.80" cy="596.73" r="2.1"/>
<circle cx="131.00" cy="596.44" r="2.1"/>
<circle cx="131.00" cy="595.79" r="2.1"/>
<circle cx="131.00" cy="595.15" r="2.1"/>
<circle cx="129.80" cy="595.86" r="2.1"/>
<circle cx="132.20" cy="595.86" r="2.1"/>
<line x1="180.50" y1="596.44" x2="205.30" y2="525.50" stroke="#000" stroke-width="1.2"/>
<line x1="180.50" y1="595.79" x2="205.30" y2="542.73" stroke="#000" stroke-width="1.2"/>
<line x1="180.50" y1="595.15" x2="205.30" y2="547.40" stroke="#000" stroke-width="1.2"/>
<line x1="180.50" y1="596.44" x2="205.30" y2="550.27" stroke="#000" stroke-width="1.2"/>
<line x1="180.50" y1="595.79" x2="205.30" y2="552.78" stroke="#000" stroke-width="1.2"/>
<line x1="180.50" y1="595.15" x2="205.30" y2="555.66" stroke="#000" stroke-width="1.2"/>
<line x1="180.50" y1="596.44" x2="205.30" y2="558.17" stroke="#000" stroke-width="1.2"/>
<line x1="180.50" y1="595.79" x2="205.30" y2="560.68" stroke="#000" stroke-width="1.2"/>
<line x1="180.50" y1="595.15" x2="205.30" y2="562.84" stroke="#000" stroke-width="1.2"/>
<line x1="180.50" y1="596.44" x2="205.30" y2="568.58" stroke="#000" stroke-width="1.2"/>
<line x1="180.50" y1="595.79" x2="205.30" y2="570.73" stroke="#000" stroke-width="1.2"/>
<line x1="180.50" y1="595.15" x2="205.30" y2="581.14" stroke="#000" stroke-width="1.2"/>
<line x1="180.50" y1="596.44" x2="205.30" y2="583.30" stroke="#000" stroke-width="1.2"/>
<line x1="180.50" y1="595.79" x2="205.30" y2="585.81" stroke="#000" stroke-width="1.2"/>
<line x1="180.50" y1="595.15" x2="205.30" y2="592.27" stroke="#000" stroke-width="1.2"/>
<circle cx="205.30" cy="525.50" r="2.1"/>
<circle cx="205.30" cy="542.73" r="2.1"/>
<circle cx="205.30" cy="547.40" r="2.1"/>
<circle cx="205.30" cy="550.27" r="2.1"/>
<circle cx="205.30" cy="552.78" r="2.1"/>
<circle cx="205.30" cy="555.66" r="2.1"/>
<circle cx="205.30" cy="558.17" r="2.1"/>
<circle cx="205.30" cy="560.68" r="2.1"/>
<circle cx="205.30" cy="562.84" r="2.1"/>
<circle cx="205.30" cy="568.58" r="2.1"/>
<circle cx="205.30" cy="570.73" r="2.1"/>
<circle cx="205.30" cy="581.14" r="2.1"/>
<circle cx="205.30" cy="583.30" r="2.1"/>
<circle cx="205.30" cy="585.81" r="2.1"/>
<circle cx="205.30" cy="592.27" r="2.1"/>
<circle cx="180.50" cy="596.44" r="2.1"/>
<circle cx="180.50" cy="595.79" r="2.1"/>
<circle cx="180.50" cy="595.15" r="2.1"/>
<circle cx="179.30" cy="595.86" r="2.1"/>
<circle cx="181.70" cy="595.86" r="2.1"/>
<circle cx="178.50" cy="595.50" r="2.1"/>
<circle cx="182.50" cy="595.50" r="2.1"/>
<circle cx="179.00" cy="594.07" r="2.1"/>
<circle cx="182.00" cy="594.07" r="2.1"/>
<line x1="229.80" y1="596.44" x2="254.50" y2="552.78" stroke="#000" stroke-width="1.2"/>
<line x1="229.80" y1="595.79" x2="254.50" y2="556.01" stroke="#000" stroke-width="1.2"/>
<line x1="229.80" y1="595.15" x2="254.50" y2="558.89" stroke="#000" stroke-width="1.2"/>
<line x1="229.80" y1="596.44" x2="254.50" y2="561.76" stroke="#000" stroke-width="1.2"/>
<line x1="229.80" y1="595.79" x2="254.50" y2="575.04" stroke="#000" stroke-width="1.2"/>
<line x1="229.80" y1="595.15" x2="254.50" y2="581.86" stroke="#000" stroke-width="1.2"/>
<line x1="229.80" y1="596.44" x2="254.50" y2="584.38" stroke="#000" stroke-width="1.2"/>
<line x1="229.80" y1="595.79" x2="254.50" y2="586.53" stroke="#000" stroke-width="1.2"/>
<line x1="229.80" y1="595.15" x2="254.50" y2="589.40" stroke="#000" stroke-width="1.2"/>
<line x1="229.80" y1="596.44" x2="254.50" y2="592.27" stroke="#000" stroke-width="1.2"/>
<line x1="229.80" y1="595.79" x2="254.50" y2="594.43" stroke="#000" stroke-width="1.2"/>
<line x1="229.80" y1="595.15" x2="254.50" y2="595.86" stroke="#000" stroke-width="1.2"/>
<line x1="229.80" y1="596.44" x2="254.50" y2="596.58" stroke="#000" stroke-width="1.2"/>
<circle cx="254.50" cy="552.78" r="2.1"/>
<circle cx="254.50" cy="556.01" r="2.1"/>
<circle cx="254.50" cy="558.89" r="2.1"/>
<circle cx="254.50" cy="561.76" r="2.1"/>
<circle cx="254.50" cy="575.04" r="2.1"/>
<circle cx="254.50" cy="581.86" r="2.1"/>
<circle cx="254.50" cy="584.38" r="2.1"/>
<circle cx="254.50" cy="586.53" r="2.1"/>
<circle cx="254.50" cy="589.40" r="2.1"/>
<circle cx="254.50" cy="592.27" r="2.1"/>
<circle cx="254.50" cy="594.43" r="2.1"/>
<circle cx="254.50" cy="595.86" r="2.1"/>
<circle cx="254.50" cy="596.58" r="2.1"/>
<circle cx="229.80" cy="596.44" r="2.1"/>
<circle cx="229.80" cy="595.79" r="2.1"/>
<circle cx="229.80" cy="595.15" r="2.1"/>
<circle cx="228.60" cy="595.86" r="2.1"/>
<circle cx="231.00" cy="595.86" r="2.1"/>
<circle cx="227.80" cy="595.50" r="2.1"/>
<circle cx="231.80" cy="595.50" r="2.1"/>
<circle cx="228.30" cy="594.07" r="2.1"/>
<circle cx="231.30" cy="594.07" r="2.1"/>
<line x1="279.20" y1="596.44" x2="303.80" y2="547.04" stroke="#000" stroke-width="1.2"/>
<line x1="279.20" y1="595.79" x2="303.80" y2="572.17" stroke="#000" stroke-width="1.2"/>
<line x1="279.20" y1="595.15" x2="303.80" y2="574.32" stroke="#000" stroke-width="1.2"/>
<line x1="279.20" y1="596.44" x2="303.80" y2="576.48" stroke="#000" stroke-width="1.2"/>
<line x1="279.20" y1="595.79" x2="303.80" y2="579.35" stroke="#000" stroke-width="1.2"/>
<line x1="279.20" y1="595.15" x2="303.80" y2="581.86" stroke="#000" stroke-width="1.2"/>
<line x1="279.20" y1="596.44" x2="303.80" y2="586.89" stroke="#000" stroke-width="1.2"/>
<line x1="279.20" y1="595.79" x2="303.80" y2="588.68" stroke="#000" stroke-width="1.2"/>
<line x1="279.20" y1="595.15" x2="303.80" y2="590.12" stroke="#000" stroke-width="1.2"/>
<line x1="279.20" y1="596.44" x2="303.80" y2="592.99" stroke="#000" stroke-width="1.2"/>
<line x1="279.20" y1="595.79" x2="303.80" y2="594.79" stroke="#000" stroke-width="1.2"/>
<line x1="279.20" y1="595.15" x2="303.80" y2="595.86" stroke="#000" stroke-width="1.2"/>
<line x1="279.20" y1="596.44" x2="303.80" y2="596.58" stroke="#000" stroke-width="1.2"/>
<circle cx="303.80" cy="547.04" r="2.1"/>
<circle cx="303.80" cy="572.17" r="2.1"/>
<circle cx="303.80" cy="574.32" r="2.1"/>
<circle cx="303.80" cy="576.48" r="2.1"/>
<circle cx="303.80" cy="579.35" r="2.1"/>
<circle cx="303.80" cy="581.86" r="2.1"/>
<circle cx="303.80" cy="586.89" r="2.1"/>
<circle cx="303.80" cy="588.68" r="2.1"/>
<circle cx="303.80" cy="590.12" r="2.1"/>
<circle cx="303.80" cy="592.99" r="2.1"/>
<circle cx="303.80" cy="594.79" r="2.1"/>
<circle cx="303.80" cy="595.86" r="2.1"/>
<circle cx="303.80" cy="596.58" r="2.1"/>
<circle cx="279.20" cy="596.44" r="2.1"/>
<circle cx="279.20" cy="595.79" r="2.1"/>
<circle cx="279.20" cy="595.15" r="2.1"/>
<circle cx="278.00" cy="595.86" r="2.1"/>
<circle cx="280.40" cy="595.86" r="2.1"/>
<circle cx="277.20" cy="595.50" r="2.1"/>
<circle cx="281.20" cy="595.50" r="2.1"/>
<circle cx="277.70" cy="594.07" r="2.1"/>
<circle cx="280.70" cy="594.07" r="2.1"/>
<line x1="65.20" y1="488.80" x2="65.20" y2="598.05" stroke="#111" stroke-width="1.50"/>
<line x1="64.45" y1="597.30" x2="321.20" y2="597.30" stroke="#111" stroke-width="1.50"/>
<line x1="60.80" y1="597.30" x2="65.20" y2="597.30" stroke="#111" stroke-width="1.40"/>
<text x="60.20" y="600.20" font-size="8.10" font-weight="bold" text-anchor="end">0</text>
<line x1="60.80" y1="561.40" x2="65.20" y2="561.40" stroke="#111" stroke-width="1.40"/>
<text x="60.20" y="564.30" font-size="8.10" font-weight="bold" text-anchor="end">5</text>
<line x1="60.80" y1="525.50" x2="65.20" y2="525.50" stroke="#111" stroke-width="1.40"/>
<text x="60.20" y="528.40" font-size="8.10" font-weight="bold" text-anchor="end">10</text>
<line x1="60.80" y1="489.60" x2="65.20" y2="489.60" stroke="#111" stroke-width="1.40"/>
<text x="60.20" y="492.50" font-size="8.10" font-weight="bold" text-anchor="end">15</text>
<line x1="81.50" y1="597.30" x2="81.50" y2="601.60" stroke="#111" stroke-width="1.40"/>
<line x1="131.00" y1="597.30" x2="131.00" y2="601.60" stroke="#111" stroke-width="1.40"/>
<line x1="180.50" y1="597.30" x2="180.50" y2="601.60" stroke="#111" stroke-width="1.40"/>
<line x1="229.80" y1="597.30" x2="229.80" y2="601.60" stroke="#111" stroke-width="1.40"/>
<line x1="279.20" y1="597.30" x2="279.20" y2="601.60" stroke="#111" stroke-width="1.40"/>
<line x1="106.30" y1="597.30" x2="106.30" y2="601.60" stroke="#111" stroke-width="1.40"/>
<line x1="155.80" y1="597.30" x2="155.80" y2="601.60" stroke="#111" stroke-width="1.40"/>
<line x1="205.30" y1="597.30" x2="205.30" y2="601.60" stroke="#111" stroke-width="1.40"/>
<line x1="254.50" y1="597.30" x2="254.50" y2="601.60" stroke="#111" stroke-width="1.40"/>
<line x1="303.80" y1="597.30" x2="303.80" y2="601.60" stroke="#111" stroke-width="1.40"/>
<text x="59.80" y="593.30" font-size="7.80" font-weight="bold" text-anchor="end">Threshold</text>
<text transform="translate(41.3,537) rotate(-90)" font-size="8.9" font-weight="bold" text-anchor="middle">IgG SARS-CoV-2 titre</text>
<text x="81.90" y="611.30" font-size="8.00" font-weight="bold" text-anchor="middle">Pre</text>
<text x="106.10" y="611.30" font-size="8.00" font-weight="bold" text-anchor="middle">Post-</text>
<text x="106.10" y="620.70" font-size="8.00" font-weight="bold" text-anchor="middle">vaccine</text>
<text x="131.00" y="611.30" font-size="8.00" font-weight="bold" text-anchor="middle">Pre</text>
<text x="158.90" y="611.30" font-size="8.00" font-weight="bold" text-anchor="middle">Post-</text>
<text x="158.90" y="620.70" font-size="8.00" font-weight="bold" text-anchor="middle">vaccine</text>
<text x="181.00" y="611.30" font-size="8.00" font-weight="bold" text-anchor="middle">Pre</text>
<text x="203.60" y="611.30" font-size="8.00" font-weight="bold" text-anchor="middle">Post-</text>
<text x="208.00" y="620.70" font-size="8.00" font-weight="bold" text-anchor="middle">vaccine</text>
<text x="230.00" y="611.30" font-size="8.00" font-weight="bold" text-anchor="middle">Pre</text>
<text x="257.60" y="611.30" font-size="8.00" font-weight="bold" text-anchor="middle">Post-</text>
<text x="257.70" y="620.70" font-size="8.00" font-weight="bold" text-anchor="middle">vaccine</text>
<text x="279.10" y="611.30" font-size="8.00" font-weight="bold" text-anchor="middle">Pre</text>
<text x="306.50" y="611.30" font-size="8.00" font-weight="bold" text-anchor="middle">Post-</text>
<text x="306.90" y="620.70" font-size="8.00" font-weight="bold" text-anchor="middle">vaccine</text>
<polyline points="81.50,625.00 81.50,629.60 107.10,629.60 107.10,625.00" fill="none" stroke="#111" stroke-width="1.50" stroke-linejoin="miter"/>
<polyline points="130.40,625.00 130.40,629.60 156.20,629.60 156.20,625.00" fill="none" stroke="#111" stroke-width="1.50" stroke-linejoin="miter"/>
<polyline points="180.00,625.00 180.00,629.60 205.80,629.60 205.80,625.00" fill="none" stroke="#111" stroke-width="1.50" stroke-linejoin="miter"/>
<polyline points="228.10,625.00 228.10,629.60 254.60,629.60 254.60,625.00" fill="none" stroke="#111" stroke-width="1.50" stroke-linejoin="miter"/>
<polyline points="277.30,625.00 277.30,629.60 303.70,629.60 303.70,625.00" fill="none" stroke="#111" stroke-width="1.50" stroke-linejoin="miter"/>
<text x="94.00" y="642.50" font-size="8.50" text-anchor="middle">Healthy</text>
<text x="93.00" y="653.00" font-size="8.50" text-anchor="middle">donors</text>
<text x="143.40" y="642.30" font-size="8.50" text-anchor="middle">CLL</text>
<text x="193.80" y="642.30" font-size="8.50" text-anchor="middle">CML</text>
<text x="241.50" y="642.30" font-size="8.50" text-anchor="middle">MM</text>
<text x="290.80" y="642.30" font-size="8.50" text-anchor="middle">ASCT</text>
<polyline points="106.60,449.60 106.60,443.00 303.80,443.00 303.80,482.70" fill="none" stroke="#111" stroke-width="1.20" stroke-linejoin="miter"/>
<text x="205.40" y="437.30" font-size="8.60" text-anchor="middle" class="lt">&lt;0.0001</text>
<polyline points="106.60,465.00 106.60,458.30 254.40,458.30 254.40,465.30" fill="none" stroke="#111" stroke-width="1.20" stroke-linejoin="miter"/>
<text x="180.60" y="453.50" font-size="8.60" text-anchor="middle" class="lt">&lt;0.0001</text>
<polyline points="106.60,529.00 106.60,474.40 205.40,474.40 205.40,483.20" fill="none" stroke="#111" stroke-width="1.20" stroke-linejoin="miter"/>
<text x="155.80" y="469.20" font-size="8.60" text-anchor="middle" class="lt">0.0460</text>
<polyline points="155.80,537.00 155.80,490.10 203.10,490.10 203.10,495.80" fill="none" stroke="#111" stroke-width="1.20" stroke-linejoin="miter"/>
<text x="179.40" y="484.30" font-size="8.60" text-anchor="middle" class="lt">&lt;0.0001</text>
<polyline points="207.40,495.80 207.40,490.10 303.80,490.10 303.80,568.30" fill="none" stroke="#111" stroke-width="1.20" stroke-linejoin="miter"/>
<text x="256.20" y="484.30" font-size="8.60" text-anchor="middle" class="lt">&lt;0.0001</text>
<polyline points="180.60,589.70 180.60,513.00 203.10,513.00 203.10,518.80" fill="none" stroke="#111" stroke-width="1.20" stroke-linejoin="miter"/>
<text x="191.50" y="508.10" font-size="8.60" text-anchor="middle" class="lt">&lt;0.0001</text>
<polyline points="207.40,518.80 207.40,513.00 254.40,513.00 254.40,552.00" fill="none" stroke="#111" stroke-width="1.20" stroke-linejoin="miter"/>
<text x="230.60" y="508.10" font-size="8.60" text-anchor="middle" class="lt">0.0027</text>
<polyline points="80.30,582.60 80.30,550.50 106.50,550.50 106.50,557.20" fill="none" stroke="#111" stroke-width="1.20" stroke-linejoin="miter"/>
<text x="93.20" y="545.50" font-size="8.60" text-anchor="middle" class="lt">&lt;0.0001</text>
</g>
<g id="figure2-caption">
<text x="13.75" y="686.3" font-size="9.21" font-weight="bold" textLength="25.02" lengthAdjust="spacingAndGlyphs">Figure</text>
<text x="40.96" y="686.3" font-size="9.21" font-weight="bold" textLength="7.46" lengthAdjust="spacingAndGlyphs">2.</text>
<text x="52.62" y="686.3" font-size="9.21" textLength="40.65" lengthAdjust="spacingAndGlyphs">Unspecific</text>
<text x="97.46" y="686.3" font-size="9.21" textLength="21.92" lengthAdjust="spacingAndGlyphs">ADCC</text>
<text x="123.58" y="686.3" font-size="9.21" textLength="11.5" lengthAdjust="spacingAndGlyphs">(A)</text>
<text x="139.27" y="686.3" font-size="9.21" textLength="14.84" lengthAdjust="spacingAndGlyphs">and</text>
<text x="158.3" y="686.3" font-size="9.21" textLength="29.33" lengthAdjust="spacingAndGlyphs">specific</text>
<text x="191.82" y="686.3" font-size="9.21" textLength="16.31" lengthAdjust="spacingAndGlyphs">DCC</text>
<text x="212.33" y="686.3" font-size="9.21" textLength="11.16" lengthAdjust="spacingAndGlyphs">(B)</text>
<text x="227.68" y="686.3" font-size="9.21" textLength="39.72" lengthAdjust="spacingAndGlyphs">responses</text>
<text x="271.6" y="686.3" font-size="9.21" textLength="7.32" lengthAdjust="spacingAndGlyphs">in</text>
<text x="283.11" y="686.3" font-size="9.21" textLength="13.17" lengthAdjust="spacingAndGlyphs">the</text>
<text x="300.48" y="686.3" font-size="9.21" textLength="34.62" lengthAdjust="spacingAndGlyphs">different</text>
<text x="339.29" y="686.3" font-size="9.21" textLength="27.05" lengthAdjust="spacingAndGlyphs">groups</text>
<text x="370.53" y="686.3" font-size="9.21" textLength="8.08" lengthAdjust="spacingAndGlyphs">of</text>
<text x="382.8" y="686.3" font-size="9.21" textLength="32.18" lengthAdjust="spacingAndGlyphs">patients</text>
<text x="419.18" y="686.3" font-size="9.21" textLength="7.32" lengthAdjust="spacingAndGlyphs">in</text>
<text x="13.75" y="697.6" font-size="9.21" textLength="46.32" lengthAdjust="spacingAndGlyphs">comparison</text>
<text x="62.26" y="697.6" font-size="9.21" textLength="17.51" lengthAdjust="spacingAndGlyphs">with</text>
<text x="81.96" y="697.6" font-size="9.21" textLength="29.53" lengthAdjust="spacingAndGlyphs">healthy</text>
<text x="113.69" y="697.6" font-size="9.21" textLength="30.05" lengthAdjust="spacingAndGlyphs">donors.</text>
</g>
<g class="fig2a">
<polyline points="72.00,744.20 72.00,731.70 189.50,731.70 189.50,813.50" fill="none" stroke="#262626" stroke-width="1.15"/>
<text x="130.60" y="727.70" font-size="6.71" text-anchor="middle" fill="#1a1a1a" class="lt" textLength="22.22" lengthAdjust="spacingAndGlyphs">&lt;0.0001</text>
<polyline points="72.00,762.00 72.00,750.00 160.10,750.00 160.10,806.50" fill="none" stroke="#262626" stroke-width="1.15"/>
<text x="116.00" y="745.40" font-size="6.71" text-anchor="middle" fill="#1a1a1a" class="lt" textLength="22.22" lengthAdjust="spacingAndGlyphs">&lt;0.0001</text>
<polyline points="72.00,772.40 72.00,768.40 130.80,768.40 130.80,812.70" fill="none" stroke="#262626" stroke-width="1.15"/>
<text x="101.40" y="764.00" font-size="6.71" text-anchor="middle" fill="#1a1a1a" class="lt" textLength="18.65" lengthAdjust="spacingAndGlyphs">0.0040</text>
<polyline points="72.00,790.90 72.00,786.20 101.50,786.20 101.50,817.50" fill="none" stroke="#262626" stroke-width="1.15"/>
<text x="86.40" y="781.80" font-size="6.71" text-anchor="middle" fill="#1a1a1a" class="lt" textLength="22.22" lengthAdjust="spacingAndGlyphs">&lt;0.0001</text>
<line x1="52.20" y1="788.60" x2="52.20" y2="878.70" stroke="#111" stroke-width="1.30"/>
<line x1="51.60" y1="878.10" x2="209.50" y2="878.10" stroke="#111" stroke-width="1.30"/>
<line x1="49.00" y1="878.10" x2="52.20" y2="878.10" stroke="#111" stroke-width="1.20"/>
<text x="48.20" y="880.50" font-size="6.70" font-weight="bold" text-anchor="end" class="lt">0</text>
<line x1="49.00" y1="860.29" x2="52.20" y2="860.29" stroke="#111" stroke-width="1.20"/>
<text x="48.20" y="862.69" font-size="6.70" font-weight="bold" text-anchor="end" class="lt">20</text>
<line x1="49.00" y1="842.48" x2="52.20" y2="842.48" stroke="#111" stroke-width="1.20"/>
<text x="48.20" y="844.88" font-size="6.70" font-weight="bold" text-anchor="end" class="lt">40</text>
<line x1="49.00" y1="824.67" x2="52.20" y2="824.67" stroke="#111" stroke-width="1.20"/>
<text x="48.20" y="827.07" font-size="6.70" font-weight="bold" text-anchor="end" class="lt">60</text>
<line x1="49.00" y1="806.86" x2="52.20" y2="806.86" stroke="#111" stroke-width="1.20"/>
<text x="48.20" y="809.26" font-size="6.70" font-weight="bold" text-anchor="end" class="lt">80</text>
<line x1="49.00" y1="789.05" x2="52.20" y2="789.05" stroke="#111" stroke-width="1.20"/>
<text x="48.20" y="791.45" font-size="6.70" font-weight="bold" text-anchor="end" class="lt">100</text>
<line x1="72.00" y1="878.10" x2="72.00" y2="881.00" stroke="#111" stroke-width="1.20"/>
<line x1="101.50" y1="878.10" x2="101.50" y2="881.00" stroke="#111" stroke-width="1.20"/>
<line x1="130.70" y1="878.10" x2="130.70" y2="881.00" stroke="#111" stroke-width="1.20"/>
<line x1="160.10" y1="878.10" x2="160.10" y2="881.00" stroke="#111" stroke-width="1.20"/>
<line x1="189.50" y1="878.10" x2="189.50" y2="881.00" stroke="#111" stroke-width="1.20"/>
<text transform="translate(30.4,834.3) rotate(-90)" font-size="6.8" font-weight="bold" text-anchor="middle">%Raji Annexin V</text>
<text x="76.70" y="890.00" font-size="6.50" font-weight="bold" text-anchor="middle">Healthy</text>
<text x="76.00" y="896.90" font-size="6.50" font-weight="bold" text-anchor="middle">donors</text>
<text x="104.00" y="889.80" font-size="6.50" font-weight="bold" text-anchor="middle">CLL</text>
<text x="133.50" y="889.80" font-size="6.50" font-weight="bold" text-anchor="middle">CML</text>
<text x="160.40" y="889.80" font-size="6.50" font-weight="bold" text-anchor="middle">MM</text>
<text x="189.60" y="889.80" font-size="6.50" font-weight="bold" text-anchor="middle">ASCT</text>
<circle cx="64.20" cy="798.80" r="1.75"/>
<circle cx="69.50" cy="798.80" r="1.75"/>
<circle cx="74.90" cy="796.50" r="1.75"/>
<circle cx="80.30" cy="798.80" r="1.75"/>
<circle cx="74.90" cy="800.60" r="1.75"/>
<circle cx="72.30" cy="805.00" r="1.75"/>
<circle cx="72.30" cy="813.90" r="1.75"/>
<circle cx="72.30" cy="818.50" r="1.75"/>
<circle cx="69.50" cy="827.80" r="1.75"/>
<circle cx="74.90" cy="825.80" r="1.75"/>
<circle cx="74.90" cy="831.20" r="1.75"/>
<circle cx="72.30" cy="847.30" r="1.75"/>
<circle cx="69.50" cy="852.70" r="1.75"/>
<circle cx="74.90" cy="852.70" r="1.75"/>
<circle cx="101.50" cy="820.70" r="1.75"/>
<circle cx="97.70" cy="824.70" r="1.75"/>
<circle cx="101.50" cy="824.70" r="1.75"/>
<circle cx="104.90" cy="824.70" r="1.75"/>
<circle cx="101.50" cy="829.60" r="1.75"/>
<circle cx="101.50" cy="833.50" r="1.75"/>
<circle cx="101.50" cy="842.70" r="1.75"/>
<circle cx="101.50" cy="848.50" r="1.75"/>
<circle cx="99.20" cy="856.00" r="1.75"/>
<circle cx="103.00" cy="856.00" r="1.75"/>
<circle cx="101.50" cy="864.00" r="1.75"/>
<circle cx="93.80" cy="870.40" r="1.75"/>
<circle cx="96.90" cy="868.80" r="1.75"/>
<circle cx="100.20" cy="869.30" r="1.75"/>
<circle cx="103.20" cy="869.30" r="1.75"/>
<circle cx="109.20" cy="869.30" r="1.75"/>
<circle cx="96.20" cy="874.50" r="1.75"/>
<circle cx="100.00" cy="872.70" r="1.75"/>
<circle cx="103.20" cy="874.20" r="1.75"/>
<circle cx="106.40" cy="872.70" r="1.75"/>
<circle cx="130.80" cy="818.50" r="1.75"/>
<circle cx="123.10" cy="823.20" r="1.75"/>
<circle cx="123.10" cy="826.80" r="1.75"/>
<circle cx="130.80" cy="825.00" r="1.75"/>
<circle cx="130.80" cy="829.60" r="1.75"/>
<circle cx="138.90" cy="823.20" r="1.75"/>
<circle cx="130.80" cy="847.80" r="1.75"/>
<circle cx="130.80" cy="854.20" r="1.75"/>
<circle cx="123.10" cy="858.80" r="1.75"/>
<circle cx="138.90" cy="857.00" r="1.75"/>
<circle cx="123.10" cy="867.80" r="1.75"/>
<circle cx="130.80" cy="870.40" r="1.75"/>
<circle cx="138.90" cy="869.60" r="1.75"/>
<circle cx="130.80" cy="874.20" r="1.75"/>
<circle cx="158.50" cy="812.70" r="1.75"/>
<circle cx="162.30" cy="812.40" r="1.75"/>
<circle cx="158.50" cy="819.60" r="1.75"/>
<circle cx="162.30" cy="820.00" r="1.75"/>
<circle cx="160.00" cy="843.80" r="1.75"/>
<circle cx="160.00" cy="848.40" r="1.75"/>
<circle cx="160.00" cy="852.70" r="1.75"/>
<circle cx="152.30" cy="858.50" r="1.75"/>
<circle cx="156.20" cy="859.60" r="1.75"/>
<circle cx="160.00" cy="860.40" r="1.75"/>
<circle cx="163.80" cy="860.00" r="1.75"/>
<circle cx="168.20" cy="857.00" r="1.75"/>
<circle cx="156.20" cy="865.00" r="1.75"/>
<circle cx="160.00" cy="865.00" r="1.75"/>
<circle cx="163.80" cy="865.80" r="1.75"/>
<circle cx="155.40" cy="872.70" r="1.75"/>
<circle cx="162.30" cy="875.00" r="1.75"/>
<circle cx="158.90" cy="876.50" r="1.75"/>
<circle cx="189.50" cy="819.20" r="1.75"/>
<circle cx="189.50" cy="825.30" r="1.75"/>
<circle cx="183.80" cy="853.00" r="1.75"/>
<circle cx="190.00" cy="856.00" r="1.75"/>
<circle cx="195.10" cy="856.50" r="1.75"/>
<circle cx="181.20" cy="860.10" r="1.75"/>
<circle cx="185.50" cy="860.50" r="1.75"/>
<circle cx="190.00" cy="860.70" r="1.75"/>
<circle cx="194.20" cy="860.40" r="1.75"/>
<circle cx="184.60" cy="863.50" r="1.75"/>
<circle cx="187.70" cy="863.80" r="1.75"/>
<circle cx="191.50" cy="862.70" r="1.75"/>
<circle cx="195.40" cy="863.20" r="1.75"/>
<circle cx="181.50" cy="873.50" r="1.75"/>
<circle cx="184.60" cy="872.70" r="1.75"/>
<circle cx="188.50" cy="873.50" r="1.75"/>
<circle cx="192.30" cy="872.70" r="1.75"/>
<circle cx="196.90" cy="874.00" r="1.75"/>
<circle cx="186.50" cy="874.20" r="1.75"/>
<circle cx="194.60" cy="873.60" r="1.75"/>
<circle cx="186.20" cy="858.20" r="1.75"/>
<circle cx="192.60" cy="858.60" r="1.75"/>
<line x1="62.40" y1="819.20" x2="82.00" y2="819.20" stroke="#222" stroke-width="1.10"/>
<line x1="67.60" y1="813.90" x2="76.80" y2="813.90" stroke="#555" stroke-width="0.90"/>
<line x1="67.60" y1="824.20" x2="76.80" y2="824.20" stroke="#555" stroke-width="0.90"/>
<line x1="72.20" y1="813.90" x2="72.20" y2="824.20" stroke="#555" stroke-width="0.90"/>
<line x1="92.10" y1="852.20" x2="111.10" y2="852.20" stroke="#222" stroke-width="1.10"/>
<line x1="97.00" y1="847.80" x2="106.20" y2="847.80" stroke="#555" stroke-width="0.90"/>
<line x1="97.00" y1="856.50" x2="106.20" y2="856.50" stroke="#555" stroke-width="0.90"/>
<line x1="101.60" y1="847.80" x2="101.60" y2="856.50" stroke="#555" stroke-width="0.90"/>
<line x1="121.00" y1="846.20" x2="140.80" y2="846.20" stroke="#222" stroke-width="1.10"/>
<line x1="126.30" y1="840.70" x2="135.50" y2="840.70" stroke="#555" stroke-width="0.90"/>
<line x1="126.30" y1="851.50" x2="135.50" y2="851.50" stroke="#555" stroke-width="0.90"/>
<line x1="130.90" y1="840.70" x2="130.90" y2="851.50" stroke="#555" stroke-width="0.90"/>
<line x1="150.20" y1="851.60" x2="170.00" y2="851.60" stroke="#222" stroke-width="1.10"/>
<line x1="155.50" y1="847.30" x2="164.70" y2="847.30" stroke="#555" stroke-width="0.90"/>
<line x1="155.50" y1="856.50" x2="164.70" y2="856.50" stroke="#555" stroke-width="0.90"/>
<line x1="160.10" y1="847.30" x2="160.10" y2="856.50" stroke="#555" stroke-width="0.90"/>
<line x1="179.90" y1="860.40" x2="199.70" y2="860.40" stroke="#222" stroke-width="1.10"/>
<line x1="185.20" y1="857.00" x2="194.40" y2="857.00" stroke="#555" stroke-width="0.90"/>
<line x1="185.20" y1="863.50" x2="194.40" y2="863.50" stroke="#555" stroke-width="0.90"/>
<line x1="189.80" y1="857.00" x2="189.80" y2="863.50" stroke="#555" stroke-width="0.90"/>
</g>
<g class="fig2b">
<polyline points="280.20,866.90 280.20,778.50 370.80,778.50 370.80,783.50" fill="none" stroke="#262626" stroke-width="1.15"/>
<text x="325.40" y="774.00" font-size="8.03" text-anchor="middle" fill="#1a1a1a" class="lt" textLength="22.32" lengthAdjust="spacingAndGlyphs">0.0189</text>
<polyline points="340.40,863.80 340.40,798.50 369.50,798.50 369.50,802.80" fill="none" stroke="#262626" stroke-width="1.15"/>
<text x="354.20" y="793.40" font-size="8.03" text-anchor="middle" fill="#1a1a1a" class="lt" textLength="22.32" lengthAdjust="spacingAndGlyphs">0.0302</text>
<polyline points="372.30,802.80 372.30,798.50 401.20,798.50 401.20,856.90" fill="none" stroke="#262626" stroke-width="1.15"/>
<text x="386.60" y="793.80" font-size="8.03" text-anchor="middle" fill="#1a1a1a" class="lt" textLength="22.32" lengthAdjust="spacingAndGlyphs">0.0426</text>
<line x1="260.20" y1="785.50" x2="260.20" y2="878.20" stroke="#111" stroke-width="1.30"/>
<line x1="259.60" y1="877.60" x2="422.30" y2="877.60" stroke="#111" stroke-width="1.30"/>
<line x1="256.30" y1="877.60" x2="260.20" y2="877.60" stroke="#111" stroke-width="1.20"/>
<text x="254.70" y="880.00" font-size="6.70" font-weight="bold" text-anchor="end">0</text>
<line x1="256.30" y1="854.75" x2="260.20" y2="854.75" stroke="#111" stroke-width="1.20"/>
<text x="254.70" y="857.15" font-size="6.70" font-weight="bold" text-anchor="end">100</text>
<line x1="256.30" y1="831.90" x2="260.20" y2="831.90" stroke="#111" stroke-width="1.20"/>
<text x="254.70" y="834.30" font-size="6.70" font-weight="bold" text-anchor="end">200</text>
<line x1="256.30" y1="809.05" x2="260.20" y2="809.05" stroke="#111" stroke-width="1.20"/>
<text x="254.70" y="811.45" font-size="6.70" font-weight="bold" text-anchor="end">300</text>
<line x1="256.30" y1="786.20" x2="260.20" y2="786.20" stroke="#111" stroke-width="1.20"/>
<text x="254.70" y="788.60" font-size="6.70" font-weight="bold" text-anchor="end">400</text>
<line x1="280.30" y1="877.60" x2="280.30" y2="880.60" stroke="#111" stroke-width="1.20"/>
<line x1="310.00" y1="877.60" x2="310.00" y2="880.60" stroke="#111" stroke-width="1.20"/>
<line x1="340.50" y1="877.60" x2="340.50" y2="880.60" stroke="#111" stroke-width="1.20"/>
<line x1="370.90" y1="877.60" x2="370.90" y2="880.60" stroke="#111" stroke-width="1.20"/>
<line x1="401.30" y1="877.60" x2="401.30" y2="880.60" stroke="#111" stroke-width="1.20"/>
<text transform="translate(236.4,831.9) rotate(-90)" font-size="7.3" font-weight="bold" text-anchor="middle">Fold caspase-3 activity</text>
<text x="280.20" y="889.30" font-size="6.50" font-weight="bold" text-anchor="middle">Healthy</text>
<text x="280.20" y="896.60" font-size="6.50" font-weight="bold" text-anchor="middle">donors</text>
<text x="313.00" y="889.00" font-size="6.50" font-weight="bold" text-anchor="middle">CLL</text>
<text x="342.40" y="889.00" font-size="6.50" font-weight="bold" text-anchor="middle">CML</text>
<text x="370.90" y="889.00" font-size="6.50" font-weight="bold" text-anchor="middle">MM</text>
<text x="401.30" y="889.00" font-size="6.50" font-weight="bold" text-anchor="middle">ASCT</text>
<circle cx="270.80" cy="875.00" r="1.90" fill="#fff" stroke="#000" stroke-width="0.95"/>
<circle cx="273.80" cy="872.00" r="1.90" fill="#fff" stroke="#000" stroke-width="0.95"/>
<circle cx="276.80" cy="875.60" r="1.90" fill="#fff" stroke="#000" stroke-width="0.95"/>
<circle cx="279.80" cy="872.60" r="1.90" fill="#fff" stroke="#000" stroke-width="0.95"/>
<circle cx="282.60" cy="875.60" r="1.90" fill="#fff" stroke="#000" stroke-width="0.95"/>
<circle cx="285.40" cy="873.40" r="1.90" fill="#fff" stroke="#000" stroke-width="0.95"/>
<circle cx="288.00" cy="875.40" r="1.90" fill="#fff" stroke="#000" stroke-width="0.95"/>
<circle cx="289.00" cy="871.80" r="1.90" fill="#fff" stroke="#000" stroke-width="0.95"/>
<circle cx="291.00" cy="869.80" r="1.90" fill="#fff" stroke="#000" stroke-width="0.95"/>
<circle cx="273.20" cy="876.20" r="1.90" fill="#fff" stroke="#000" stroke-width="0.95"/>
<circle cx="309.30" cy="840.50" r="1.80"/>
<circle cx="311.60" cy="844.30" r="1.80"/>
<circle cx="308.80" cy="852.80" r="1.80"/>
<circle cx="311.90" cy="852.80" r="1.80"/>
<circle cx="310.40" cy="861.20" r="1.80"/>
<circle cx="305.80" cy="868.20" r="1.80"/>
<circle cx="311.00" cy="868.50" r="1.80"/>
<circle cx="308.80" cy="871.50" r="1.80"/>
<circle cx="301.90" cy="873.00" r="1.80"/>
<circle cx="304.50" cy="871.00" r="1.80"/>
<circle cx="301.90" cy="876.80" r="1.80"/>
<circle cx="306.00" cy="876.50" r="1.80"/>
<circle cx="309.50" cy="876.80" r="1.80"/>
<circle cx="313.00" cy="876.50" r="1.80"/>
<circle cx="316.00" cy="876.80" r="1.80"/>
<circle cx="318.50" cy="876.80" r="1.80"/>
<circle cx="314.00" cy="873.50" r="1.80"/>
<circle cx="337.00" cy="869.40" r="1.80"/>
<circle cx="339.50" cy="871.00" r="1.80"/>
<circle cx="333.00" cy="873.00" r="1.80"/>
<circle cx="342.00" cy="872.50" r="1.80"/>
<circle cx="331.50" cy="876.30" r="1.80"/>
<circle cx="334.50" cy="876.80" r="1.80"/>
<circle cx="337.50" cy="876.50" r="1.80"/>
<circle cx="340.50" cy="876.80" r="1.80"/>
<circle cx="343.50" cy="876.50" r="1.80"/>
<circle cx="346.50" cy="876.80" r="1.80"/>
<circle cx="349.50" cy="876.80" r="1.80"/>
<circle cx="335.50" cy="874.00" r="1.80"/>
<circle cx="344.50" cy="874.50" r="1.80"/>
<circle cx="332.50" cy="874.80" r="1.80"/>
<circle cx="369.80" cy="808.60" r="1.80"/>
<circle cx="371.80" cy="808.60" r="1.80"/>
<circle cx="369.80" cy="815.90" r="1.80"/>
<circle cx="371.80" cy="815.90" r="1.80"/>
<circle cx="370.80" cy="844.30" r="1.80"/>
<circle cx="370.80" cy="866.40" r="1.80"/>
<circle cx="363.00" cy="873.20" r="1.80"/>
<circle cx="366.00" cy="875.80" r="1.80"/>
<circle cx="369.00" cy="872.50" r="1.80"/>
<circle cx="371.50" cy="876.20" r="1.80"/>
<circle cx="374.50" cy="873.00" r="1.80"/>
<circle cx="378.00" cy="874.50" r="1.80"/>
<circle cx="380.00" cy="873.00" r="1.80"/>
<circle cx="362.50" cy="876.50" r="1.80"/>
<circle cx="368.00" cy="876.80" r="1.80"/>
<circle cx="376.00" cy="876.80" r="1.80"/>
<circle cx="400.80" cy="862.50" r="1.80"/>
<circle cx="401.60" cy="863.30" r="1.80"/>
<circle cx="401.20" cy="870.00" r="1.80"/>
<circle cx="393.50" cy="874.50" r="1.80"/>
<circle cx="396.00" cy="876.50" r="1.80"/>
<circle cx="398.50" cy="874.00" r="1.80"/>
<circle cx="401.50" cy="876.80" r="1.80"/>
<circle cx="404.00" cy="874.50" r="1.80"/>
<circle cx="406.50" cy="876.50" r="1.80"/>
<circle cx="409.00" cy="875.00" r="1.80"/>
<circle cx="395.00" cy="877.00" r="1.80"/>
<circle cx="399.50" cy="877.00" r="1.80"/>
<circle cx="403.50" cy="877.00" r="1.80"/>
<circle cx="407.50" cy="877.00" r="1.80"/>
<circle cx="410.50" cy="876.80" r="1.80"/>
<line x1="300.60" y1="867.20" x2="320.40" y2="867.20" stroke="#222" stroke-width="1.10"/>
<line x1="305.70" y1="865.00" x2="315.30" y2="865.00" stroke="#555" stroke-width="0.90"/>
<line x1="305.70" y1="869.70" x2="315.30" y2="869.70" stroke="#555" stroke-width="0.90"/>
<line x1="310.50" y1="865.00" x2="310.50" y2="869.70" stroke="#555" stroke-width="0.90"/>
<line x1="330.60" y1="875.00" x2="350.40" y2="875.00" stroke="#222" stroke-width="1.10"/>
<line x1="335.70" y1="874.30" x2="345.30" y2="874.30" stroke="#555" stroke-width="0.90"/>
<line x1="335.70" y1="875.80" x2="345.30" y2="875.80" stroke="#555" stroke-width="0.90"/>
<line x1="340.50" y1="874.30" x2="340.50" y2="875.80" stroke="#555" stroke-width="0.90"/>
<line x1="361.20" y1="860.40" x2="380.80" y2="860.40" stroke="#222" stroke-width="1.10"/>
<line x1="366.20" y1="854.30" x2="375.80" y2="854.30" stroke="#555" stroke-width="0.90"/>
<line x1="366.20" y1="866.60" x2="375.80" y2="866.60" stroke="#555" stroke-width="0.90"/>
<line x1="371.00" y1="854.30" x2="371.00" y2="866.60" stroke="#555" stroke-width="0.90"/>
<line x1="391.40" y1="873.50" x2="411.20" y2="873.50" stroke="#222" stroke-width="1.10"/>
<line x1="396.50" y1="872.00" x2="406.10" y2="872.00" stroke="#555" stroke-width="0.90"/>
<line x1="396.50" y1="875.00" x2="406.10" y2="875.00" stroke="#555" stroke-width="0.90"/>
<line x1="401.30" y1="872.00" x2="401.30" y2="875.00" stroke="#555" stroke-width="0.90"/>
<line x1="271.30" y1="875.40" x2="289.30" y2="875.40" stroke="#222" stroke-width="1.10"/>
<line x1="275.50" y1="874.80" x2="285.10" y2="874.80" stroke="#555" stroke-width="0.90"/>
<line x1="275.50" y1="876.00" x2="285.10" y2="876.00" stroke="#555" stroke-width="0.90"/>
<line x1="280.30" y1="874.80" x2="280.30" y2="876.00" stroke="#555" stroke-width="0.90"/>
</g>
<text x="20.2" y="734.6" font-size="9.79" font-weight="bold" textLength="9.6" lengthAdjust="spacingAndGlyphs">A)</text>
<text x="217.9" y="734.4" font-size="9.79" font-weight="bold" textLength="8.9" lengthAdjust="spacingAndGlyphs">B)</text>
</svg>
</body></html>
